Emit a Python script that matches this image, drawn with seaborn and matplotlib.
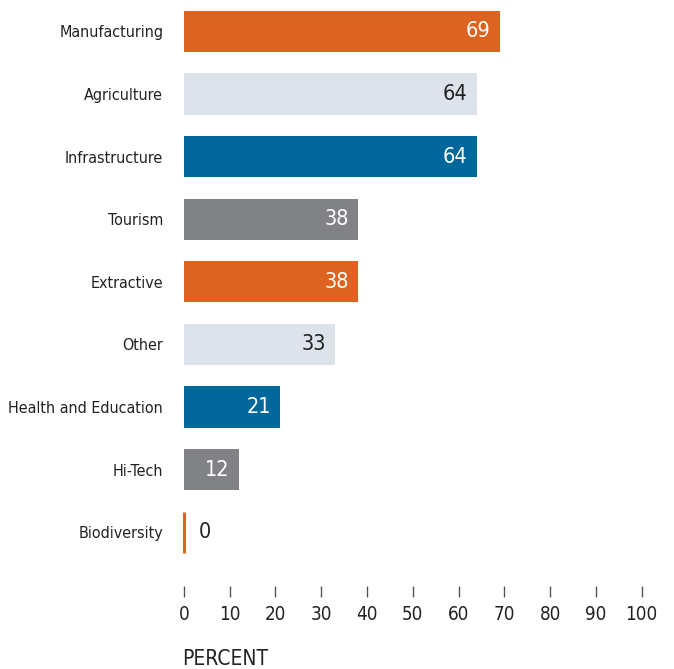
import matplotlib
matplotlib.use("Agg")
import matplotlib.pyplot as plt
import pandas as pd
import seaborn as sns

sectors = ["Manufacturing", "Agriculture", "Infrastructure", "Tourism", "Extractive",
           "Other", "Health and Education", "Hi-Tech", "Biodiversity"]
percent = [69, 64, 64, 38, 38, 33, 21, 12, 0]
bar_colors = ["#DD6420", "#DCE3EA", "#00679A", "#808285", "#DD6420",
              "#DCE3EA", "#00679A", "#808285", "#DD6420"]
label_colors = ["white", "#222222", "white", "white", "white",
                "#222222", "white", "white", "#222222"]
ticks = [0, 10, 20, 30, 40, 50, 60, 70, 80, 90, 100]

sns.set_style("white")
plt.rcParams['font.family'] = ['DejaVu Sans']
plt.rcParams['font.stretch'] = 'condensed'

df = pd.DataFrame({"sector": sectors, "percent": percent})

fig = plt.figure(figsize=(6.74, 6.69), dpi=100)
ax = fig.add_axes([182 / 674, 1 - 586 / 669, (643 - 182) / 674, 586 / 669])

sns.barplot(data=df, x="percent", y="sector", hue="sector", palette=bar_colors,
            legend=False, width=0.66, ax=ax, saturation=1)

# zero-valued bar still shows as a thin stroke
for p, v, c in zip(ax.patches, percent, bar_colors):
    if v == 0:
        p.set_edgecolor(c)
        p.set_linewidth(2.2)
    else:
        p.set_linewidth(0)

for i, (v, c) in enumerate(zip(percent, label_colors)):
    if v > 5:
        ax.text(v - 2.0, i, str(v), ha="right", va="center", color=c, fontsize=15.5)
    else:
        ax.text(v + 3.3, i, str(v), ha="left", va="center", color=c, fontsize=15.5)

ax.set_xlim(-0.4, 100.3)
ax.set_ylim(8.86, -0.503)
ax.set_xticks(ticks)
ax.set_xticklabels([str(t) for t in ticks], fontsize=13.5, color="#222222")
ax.tick_params(axis="x", bottom=True, length=8, width=1, color="#555555", pad=6)
ax.tick_params(axis="y", left=False, pad=10, labelsize=11.5, labelcolor="#222222")
ax.set_ylabel("")
ax.set_xlabel("PERCENT", fontsize=15, color="#222222", loc="left", labelpad=18)
ax.xaxis.label.set_horizontalalignment("left")
sns.despine(ax=ax, left=True, bottom=True)

fig.savefig("out.png", dpi=100)
